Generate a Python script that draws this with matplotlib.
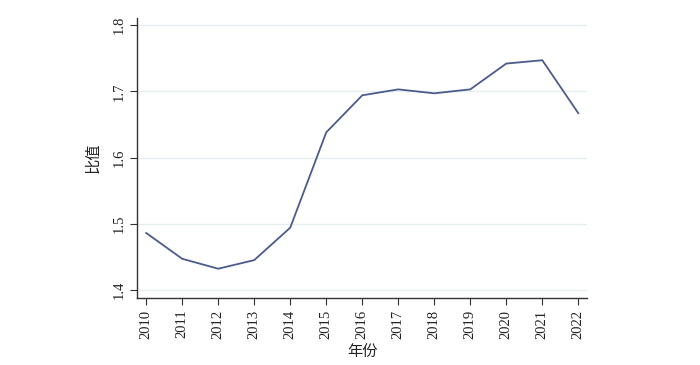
import matplotlib.pyplot as plt

years = [2010, 2011, 2012, 2013, 2014, 2015, 2016, 2017, 2018, 2019, 2020, 2021, 2022]
ratio = [1.486, 1.447, 1.432, 1.445, 1.494, 1.638, 1.694, 1.703, 1.697, 1.703, 1.742, 1.747, 1.667]
yticks = [1.4, 1.5, 1.6, 1.7, 1.8]

plt.rcParams['font.family'] = ['Liberation Serif', 'Noto Sans CJK SC']

fig = plt.figure(figsize=(7, 3.65), dpi=100)
ax = fig.add_axes([0.196, 0.184, 0.643, 0.767])

ax.plot(years, ratio, color='#4b5b8c', linewidth=1.3)

ax.set_xlim(2009.75, 2022.25)
ax.set_ylim(1.388, 1.811)
ax.set_xticks(years)
ax.set_xticklabels([str(y) for y in years], rotation=90, fontsize=10.5)
ax.set_yticks(yticks)
ax.set_yticklabels([f'{v:.1f}' for v in yticks], rotation=90, va='center', fontsize=10.5)
ax.grid(axis='y', color='#e6eff0', linewidth=1)
ax.set_axisbelow(True)

for side in ['top', 'right']:
    ax.spines[side].set_visible(False)
for side in ['left', 'bottom']:
    ax.spines[side].set_color('#333333')
    ax.spines[side].set_linewidth(1)
ax.tick_params(direction='out', length=5, color='#333333', labelcolor='#222222')

ax.set_xlabel('年份', fontsize=11, family=['Noto Sans CJK SC'], color='#222222', labelpad=3)
ax.set_ylabel('比值', fontsize=11, family=['Noto Sans CJK SC'], color='#222222', labelpad=8)

fig.savefig('out.png', dpi=100)
